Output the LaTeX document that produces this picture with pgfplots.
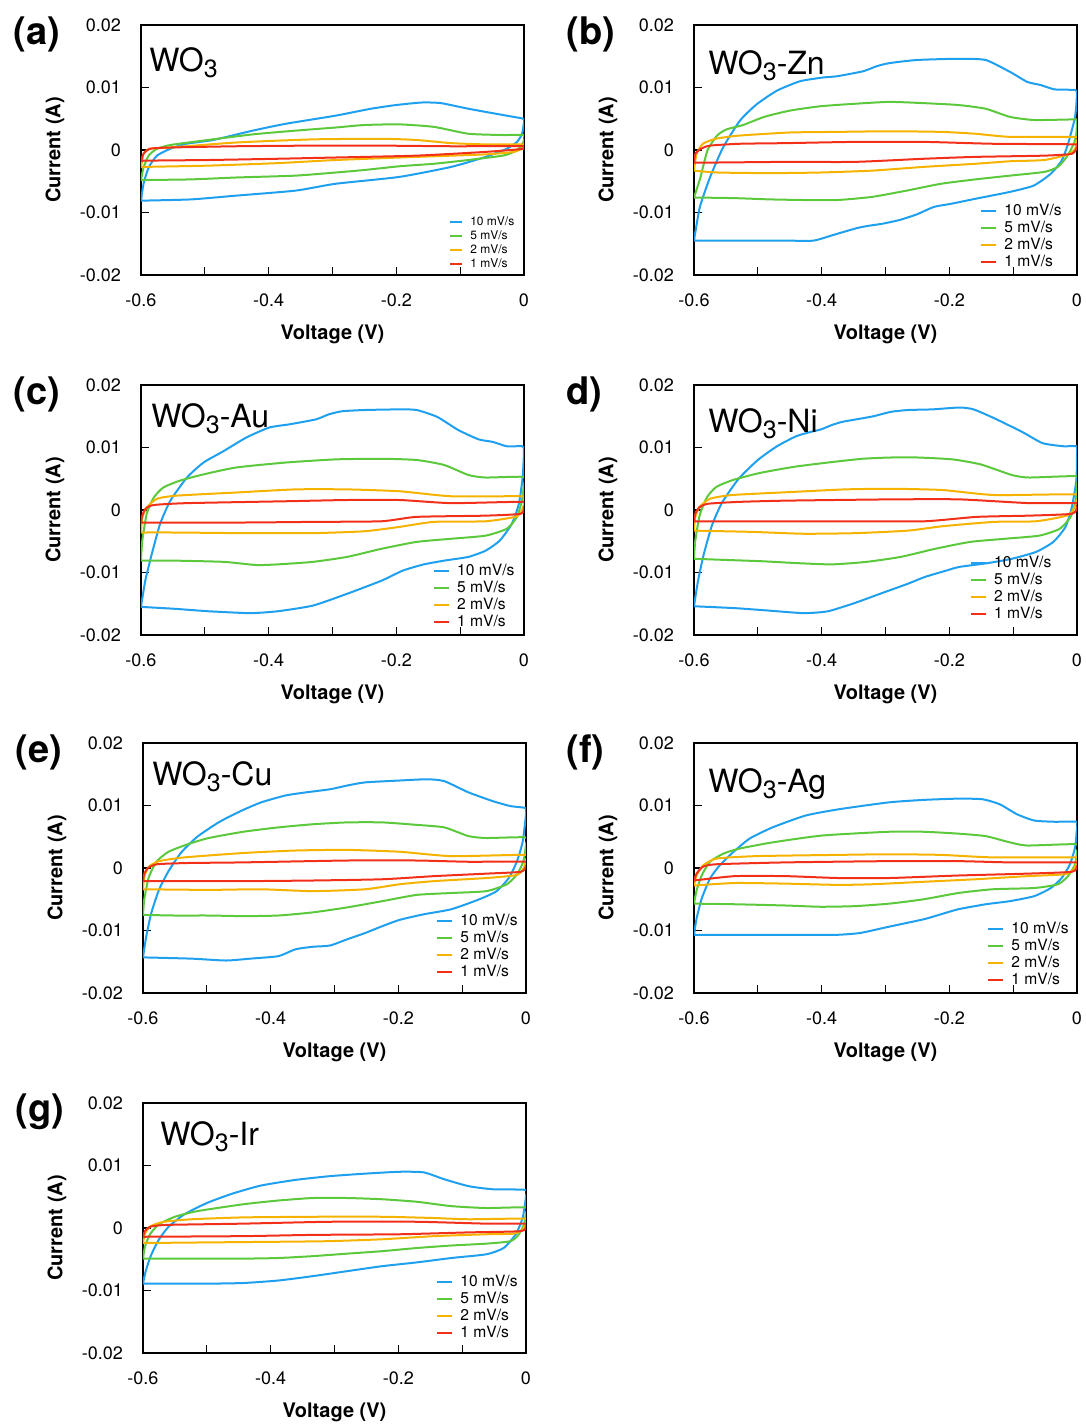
\documentclass[border=0pt]{standalone}
\usepackage{pgfplots}
\pgfplotsset{compat=1.18}
\usepackage{fontspec}
\setmainfont{TeX Gyre Heros}

\definecolor{cvblue}{HTML}{1FA0EE}
\definecolor{cvgreen}{HTML}{5CC83C}
\definecolor{cvorange}{HTML}{F5B300}
\definecolor{cvred}{HTML}{F2301A}

\pgfplotsset{
  cv/.style={
    scale only axis, width=191.5pt, height=125pt,
    anchor=north west,
    xmin=-0.6, xmax=0, ymin=-0.02, ymax=0.02,
    xtick={-0.6,-0.4,-0.2,0}, xticklabels={-0.6,-0.4,-0.2,0},
    minor xtick={-0.5,-0.3,-0.1},
    ytick={-0.02,-0.01,0,0.01,0.02}, yticklabels={-0.02,-0.01,0,0.01,0.02},
    scaled ticks=false,
    tick pos=left, tick align=inside,
    major tick length=4pt, minor tick length=4pt,
    tick style={line width=0.6pt, black},
    axis line style={line width=0.75pt},
    tick label style={font=\fontsize{9}{10}\selectfont},
    xticklabel style={yshift=-6pt},
    yticklabel style={xshift=-6.5pt},
    xlabel={Voltage (V)}, ylabel={Current (A)},
    every axis x label/.style={at={(axis description cs:0.5,0)}, yshift=-29.5pt, anchor=center, font=\fontsize{10}{12}\selectfont\bfseries},
    every axis y label/.style={at={(axis description cs:0,0.5)}, xshift=-43pt, rotate=90, anchor=center, font=\fontsize{10}{12}\selectfont\bfseries},
    every axis plot/.append style={line width=1pt, smooth, tension=0.35},
    legend cell align=left,
    legend image code/.code={\draw[#1] (0pt,0pt) -- (7.5pt,0pt);},
    legend style={draw=none, fill=none, inner sep=0pt, anchor=north west,
      font=\fontsize{7.8}{8}\selectfont, row sep=0.5pt, column sep=3pt,
      nodes={inner sep=0.5pt, text height=5.8pt, text depth=1.2pt}},
  },
  cvsmall/.style={
    legend image code/.code={\draw[#1] (0pt,0pt) -- (6pt,0pt);},
    legend style={font=\fontsize{6}{7}\selectfont, row sep=0.5pt, column sep=3pt,
      nodes={inner sep=0.5pt, text height=4.6pt, text depth=0.9pt}},
  },
}
\newcommand{\panellabel}[2]{\node[anchor=west, inner sep=0pt, font=\fontsize{19}{20}\selectfont\bfseries] at ([xshift=-64pt, yshift=-4.5pt]#1.north west) {#2};}
\newcommand{\sample}[4]{\node[anchor=base west, font=\fontsize{16}{18}\selectfont, inner sep=0pt] at ([xshift=#2, yshift=#3]#1.north west) {WO\raisebox{-3pt}{\fontsize{12.5}{13}\selectfont 3}#4};}

\begin{document}
\begin{tikzpicture}
\path[use as bounding box] (-70.5pt,12.5pt) rectangle (472.5pt,-700pt);

% (a) WO3
\begin{axis}[cv, cvsmall, name=pa, at={(0pt,0pt)}, legend style={at={(0.804,0.24)}}]
\addplot[cvblue] coordinates {(-0.600,-0.0081) (-0.596,-0.0054) (-0.588,-0.0028) (-0.575,-0.0009) (-0.554,0.0002) (-0.529,0.0010) (-0.487,0.0016) (-0.425,0.0031) (-0.373,0.0042) (-0.295,0.0055) (-0.240,0.0066) (-0.200,0.0072) (-0.160,0.0076) (-0.130,0.0075) (-0.087,0.0066) (-0.033,0.0056) (-0.001,0.0050) (0,0.0045) (-0.003,0.0026) (-0.011,0.0013) (-0.027,0.0002) (-0.060,-0.0011) (-0.114,-0.0027) (-0.195,-0.0043) (-0.295,-0.0054) (-0.358,-0.0065) (-0.451,-0.0073) (-0.521,-0.0079) (-0.597,-0.0081) (-0.600,-0.0081)};
\addlegendentry{10 mV/s}
\addplot[cvgreen] coordinates {(-0.600,-0.0048) (-0.596,-0.0028) (-0.588,-0.0009) (-0.575,0.0002) (-0.554,0.0008) (-0.503,0.0015) (-0.425,0.0025) (-0.358,0.0031) (-0.295,0.0036) (-0.250,0.0040) (-0.195,0.0041) (-0.141,0.0037) (-0.087,0.0026) (-0.033,0.0024) (-0.001,0.0024) (0,0.0016) (-0.005,0.0005) (-0.016,-0.0003) (-0.033,-0.0009) (-0.087,-0.0016) (-0.141,-0.0022) (-0.195,-0.0026) (-0.250,-0.0032) (-0.295,-0.0036) (-0.358,-0.0041) (-0.451,-0.0044) (-0.521,-0.0047) (-0.592,-0.0048) (-0.600,-0.0048)};
\addlegendentry{5 mV/s}
\addplot[cvorange] coordinates {(-0.600,-0.0028) (-0.596,-0.0006) (-0.586,0.0002) (-0.554,0.0004) (-0.451,0.0012) (-0.331,0.0017) (-0.223,0.0018) (-0.168,0.0016) (-0.114,0.0011) (-0.060,0.0009) (-0.001,0.0009) (0,0.0004) (-0.016,-0.0003) (-0.060,-0.0007) (-0.168,-0.0011) (-0.295,-0.0016) (-0.386,-0.0021) (-0.494,-0.0025) (-0.592,-0.0027) (-0.600,-0.0028)};
\addlegendentry{2 mV/s}
\addplot[cvred] coordinates {(-0.600,-0.0018) (-0.596,-0.0006) (-0.586,0.0002) (-0.554,0.0004) (-0.451,0.0006) (-0.331,0.0007) (-0.223,0.0007) (-0.114,0.0006) (-0.001,0.0006) (0,0.0002) (-0.060,-0.0003) (-0.168,-0.0009) (-0.295,-0.0012) (-0.386,-0.0014) (-0.494,-0.0016) (-0.592,-0.0017) (-0.600,-0.0018)};
\addlegendentry{1 mV/s}
\end{axis}
\panellabel{pa}{(a)}
\sample{pa}{4pt}{-23pt}{}

% (b) WO3-Zn
\begin{axis}[cv, name=pb, at={(276.5pt,0pt)}, legend style={at={(0.747,0.29)}}]
\addplot[cvblue] coordinates {(-0.600,-0.0145) (-0.591,-0.0092) (-0.575,-0.0044) (-0.5545,0.0004) (-0.528,0.0047) (-0.502,0.0073) (-0.470,0.0095) (-0.434,0.0110) (-0.398,0.0116) (-0.376,0.0118) (-0.335,0.0126) (-0.314,0.0134) (-0.294,0.0139) (-0.251,0.0144) (-0.186,0.0146) (-0.143,0.0144) (-0.105,0.0125) (-0.078,0.0109) (-0.057,0.0104) (-0.035,0.0097) (-0.003,0.0096) (0,0.0090) (-0.003,0.0053) (-0.014,0.0010) (-0.024,-0.0017) (-0.041,-0.0038) (-0.068,-0.0057) (-0.105,-0.0067) (-0.159,-0.0078) (-0.197,-0.0086) (-0.224,-0.0091) (-0.251,-0.0103) (-0.278,-0.0112) (-0.305,-0.0118) (-0.325,-0.0121) (-0.345,-0.0125) (-0.382,-0.0136) (-0.413,-0.0145) (-0.456,-0.0145) (-0.536,-0.0145) (-0.600,-0.0145)};
\addlegendentry{10 mV/s}
\addplot[cvgreen] coordinates {(-0.600,-0.0076) (-0.590,-0.0044) (-0.579,-0.0001) (-0.564,0.0023) (-0.549,0.0033) (-0.523,0.0040) (-0.490,0.0053) (-0.450,0.0063) (-0.402,0.0070) (-0.348,0.0074) (-0.294,0.0077) (-0.240,0.0075) (-0.186,0.0072) (-0.143,0.0066) (-0.105,0.0053) (-0.067,0.0048) (-0.003,0.0049) (0,0.0048) (-0.001,0.0026) (-0.005,0.0010) (-0.016,-0.0011) (-0.030,-0.0027) (-0.051,-0.0035) (-0.105,-0.0041) (-0.159,-0.0047) (-0.213,-0.0054) (-0.267,-0.0065) (-0.321,-0.0075) (-0.375,-0.0080) (-0.429,-0.0080) (-0.482,-0.0079) (-0.536,-0.0077) (-0.600,-0.0076)};
\addlegendentry{5 mV/s}
\addplot[cvorange] coordinates {(-0.600,-0.0033) (-0.596,-0.0006) (-0.586,0.0010) (-0.566,0.0018) (-0.530,0.0023) (-0.450,0.0028) (-0.375,0.0029) (-0.294,0.0030) (-0.213,0.0029) (-0.159,0.0026) (-0.105,0.0021) (-0.003,0.0021) (0,0.0016) (-0.003,0.0002) (-0.014,-0.0007) (-0.051,-0.0016) (-0.105,-0.0018) (-0.159,-0.0022) (-0.240,-0.0027) (-0.321,-0.0033) (-0.402,-0.0036) (-0.482,-0.0037) (-0.563,-0.0036) (-0.600,-0.0033)};
\addlegendentry{2 mV/s}
\addplot[cvred] coordinates {(-0.600,-0.0020) (-0.598,-0.0006) (-0.589,0.0002) (-0.575,0.0007) (-0.528,0.0010) (-0.456,0.0011) (-0.348,0.0013) (-0.240,0.0013) (-0.132,0.0010) (-0.003,0.0009) (0,0.0005) (-0.008,-0.0006) (-0.051,-0.0009) (-0.159,-0.0011) (-0.240,-0.0014) (-0.348,-0.0019) (-0.456,-0.0019) (-0.563,-0.0020) (-0.600,-0.0020)};
\addlegendentry{1 mV/s}
\end{axis}
\panellabel{pb}{(b)}
\sample{pb}{7pt}{-24.5pt}{-Zn}

% (c) WO3-Au
\begin{axis}[cv, name=pc, at={(0pt,-180pt)}, legend style={at={(0.762,0.29)}}]
\addplot[cvblue] coordinates {(-0.600,-0.0155) (-0.5933,-0.0113) (-0.583,-0.0070) (-0.570,-0.0022) (-0.554,0.0015) (-0.528,0.0052) (-0.502,0.0076) (-0.471,0.0094) (-0.435,0.0116) (-0.399,0.0132) (-0.368,0.0137) (-0.326,0.0145) (-0.306,0.0153) (-0.285,0.0158) (-0.250,0.0160) (-0.195,0.0161) (-0.168,0.0160) (-0.136,0.0149) (-0.103,0.0128) (-0.071,0.0113) (-0.049,0.0109) (-0.027,0.0102) (-0.003,0.0102) (0,0.0096) (-0.002,0.0053) (-0.008,0.0010) (-0.019,-0.0022) (-0.038,-0.0049) (-0.060,-0.0065) (-0.087,-0.0075) (-0.125,-0.0081) (-0.157,-0.0087) (-0.190,-0.0097) (-0.223,-0.0113) (-0.277,-0.0134) (-0.331,-0.0153) (-0.386,-0.0162) (-0.429,-0.0165) (-0.494,-0.0162) (-0.548,-0.0158) (-0.600,-0.0155)};
\addlegendentry{10 mV/s}
\addplot[cvgreen] coordinates {(-0.600,-0.0081) (-0.598,-0.0049) (-0.591,-0.0006) (-0.580,0.0020) (-0.565,0.0036) (-0.539,0.0047) (-0.502,0.0057) (-0.451,0.0068) (-0.373,0.0076) (-0.295,0.0081) (-0.223,0.0082) (-0.168,0.0080) (-0.125,0.0072) (-0.087,0.0056) (-0.060,0.0052) (-0.001,0.0053) (0,0.0042) (-0.003,0.0016) (-0.011,-0.0011) (-0.027,-0.0030) (-0.060,-0.0041) (-0.114,-0.0046) (-0.168,-0.0051) (-0.223,-0.0062) (-0.277,-0.0075) (-0.331,-0.0083) (-0.386,-0.0087) (-0.420,-0.0088) (-0.470,-0.0083) (-0.548,-0.0081) (-0.600,-0.0081)};
\addlegendentry{5 mV/s}
\addplot[cvorange] coordinates {(-0.600,-0.0036) (-0.598,-0.0012) (-0.591,0.0004) (-0.575,0.0018) (-0.544,0.0023) (-0.451,0.0028) (-0.358,0.0033) (-0.277,0.0033) (-0.195,0.0030) (-0.114,0.0022) (-0.005,0.0022) (0,0.0018) (-0.001,0.0005) (-0.011,-0.0010) (-0.060,-0.0018) (-0.141,-0.0019) (-0.195,-0.0027) (-0.250,-0.0034) (-0.331,-0.0037) (-0.440,-0.0037) (-0.548,-0.0036) (-0.600,-0.0036)};
\addlegendentry{2 mV/s}
\addplot[cvred] coordinates {(-0.600,-0.0020) (-0.598,-0.0009) (-0.593,0.0002) (-0.580,0.0008) (-0.528,0.0011) (-0.373,0.0014) (-0.277,0.0016) (-0.195,0.0016) (-0.114,0.0011) (-0.001,0.0013) (0,0.0005) (-0.005,-0.0006) (-0.060,-0.0009) (-0.168,-0.0011) (-0.223,-0.0018) (-0.331,-0.0019) (-0.440,-0.0020) (-0.600,-0.0020)};
\addlegendentry{1 mV/s}
\end{axis}
\panellabel{pc}{(c)}
\sample{pc}{5pt}{-21pt}{-Au}

% (d) WO3-Ni
\begin{axis}[cv, name=pd, at={(276.5pt,-180pt)}, legend style={at={(0.72,0.322)}}]
\addplot[cvblue] coordinates {(-0.600,-0.0154) (-0.594,-0.0115) (-0.585,-0.0072) (-0.572,-0.0025) (-0.556,0.0012) (-0.530,0.0050) (-0.500,0.0080) (-0.470,0.0102) (-0.440,0.0118) (-0.417,0.0125) (-0.401,0.0129) (-0.384,0.0136) (-0.368,0.0141) (-0.346,0.0145) (-0.319,0.0150) (-0.292,0.0157) (-0.265,0.0160) (-0.227,0.0161) (-0.184,0.0164) (-0.162,0.0161) (-0.130,0.0147) (-0.086,0.0125) (-0.054,0.0107) (-0.021,0.0102) (-0.001,0.0102) (0,0.0090) (-0.001,0.0048) (-0.008,0.0005) (-0.018,-0.0027) (-0.037,-0.0051) (-0.064,-0.0067) (-0.102,-0.0078) (-0.140,-0.0085) (-0.184,-0.0091) (-0.205,-0.0097) (-0.238,-0.0107) (-0.265,-0.0118) (-0.303,-0.0132) (-0.346,-0.0148) (-0.390,-0.0162) (-0.428,-0.0165) (-0.482,-0.0161) (-0.536,-0.0157) (-0.600,-0.0154)};
\addlegendentry{10 mV/s}
\addplot[cvgreen] coordinates {(-0.600,-0.0078) (-0.598,-0.0049) (-0.591,-0.0008) (-0.580,0.0020) (-0.565,0.0037) (-0.539,0.0048) (-0.498,0.0059) (-0.444,0.0069) (-0.390,0.0076) (-0.336,0.0082) (-0.292,0.0084) (-0.249,0.0084) (-0.195,0.0081) (-0.151,0.0073) (-0.102,0.0056) (-0.075,0.0052) (-0.001,0.0054) (0,0.0042) (-0.002,0.0016) (-0.010,-0.0011) (-0.027,-0.0030) (-0.059,-0.0041) (-0.113,-0.0046) (-0.167,-0.0051) (-0.222,-0.0062) (-0.276,-0.0075) (-0.330,-0.0083) (-0.384,-0.0087) (-0.438,-0.0085) (-0.493,-0.0082) (-0.547,-0.0080) (-0.600,-0.0078)};
\addlegendentry{5 mV/s}
\addplot[cvorange] coordinates {(-0.600,-0.0033) (-0.598,-0.0011) (-0.591,0.0005) (-0.575,0.0018) (-0.540,0.0024) (-0.444,0.0029) (-0.363,0.0033) (-0.292,0.0034) (-0.211,0.0032) (-0.130,0.0024) (-0.001,0.0025) (0,0.0016) (-0.005,0.0002) (-0.016,-0.0009) (-0.064,-0.0018) (-0.130,-0.0019) (-0.211,-0.0026) (-0.265,-0.0033) (-0.346,-0.0037) (-0.428,-0.0038) (-0.509,-0.0035) (-0.600,-0.0033)};
\addlegendentry{2 mV/s}
\addplot[cvred] coordinates {(-0.600,-0.0018) (-0.598,-0.0006) (-0.592,0.0004) (-0.578,0.0010) (-0.530,0.0013) (-0.455,0.0015) (-0.292,0.0017) (-0.184,0.0017) (-0.075,0.0011) (-0.001,0.0011) (0,0.0005) (-0.008,-0.0006) (-0.075,-0.0009) (-0.157,-0.0011) (-0.238,-0.0018) (-0.346,-0.0018) (-0.455,-0.0018) (-0.600,-0.0018)};
\addlegendentry{1 mV/s}
\end{axis}
\panellabel{pd}{d)}
\sample{pd}{7pt}{-23.5pt}{-Ni}

% (e) WO3-Cu
\begin{axis}[cv, name=pe, at={(1pt,-359pt)}, legend style={at={(0.765,0.322)}}]
\addplot[cvblue] coordinates {(-0.600,-0.0143) (-0.595,-0.0110) (-0.587,-0.0072) (-0.575,-0.0035) (-0.560,-0.0005) (-0.540,0.0025) (-0.515,0.0050) (-0.480,0.0074) (-0.445,0.0092) (-0.415,0.0105) (-0.377,0.0116) (-0.345,0.0121) (-0.307,0.0126) (-0.280,0.0132) (-0.252,0.0137) (-0.198,0.0140) (-0.155,0.0142) (-0.128,0.0139) (-0.090,0.0121) (-0.052,0.0107) (-0.024,0.0099) (-0.001,0.0096) (0,0.0086) (-0.005,0.0043) (-0.014,0.0011) (-0.027,-0.0016) (-0.046,-0.0037) (-0.073,-0.0050) (-0.117,-0.0066) (-0.160,-0.0074) (-0.198,-0.0083) (-0.225,-0.0093) (-0.252,-0.0104) (-0.280,-0.0114) (-0.307,-0.0124) (-0.334,-0.0126) (-0.361,-0.0130) (-0.388,-0.0141) (-0.432,-0.0145) (-0.470,-0.0148) (-0.524,-0.0145) (-0.600,-0.0143)};
\addlegendentry{10 mV/s}
\addplot[cvgreen] coordinates {(-0.600,-0.0075) (-0.598,-0.0050) (-0.591,-0.0015) (-0.579,0.0010) (-0.560,0.0026) (-0.530,0.0038) (-0.497,0.0048) (-0.443,0.0058) (-0.388,0.0065) (-0.334,0.0070) (-0.280,0.0073) (-0.225,0.0073) (-0.171,0.0069) (-0.128,0.0065) (-0.090,0.0051) (-0.062,0.0048) (-0.001,0.0049) (0,0.0038) (-0.004,0.0011) (-0.014,-0.0010) (-0.030,-0.0026) (-0.062,-0.0037) (-0.117,-0.0040) (-0.171,-0.0043) (-0.225,-0.0053) (-0.280,-0.0063) (-0.334,-0.0071) (-0.388,-0.0076) (-0.443,-0.0077) (-0.497,-0.0076) (-0.551,-0.0076) (-0.600,-0.0075)};
\addlegendentry{5 mV/s}
\addplot[cvorange] coordinates {(-0.600,-0.0034) (-0.598,-0.0014) (-0.591,0.0002) (-0.575,0.0011) (-0.535,0.0017) (-0.443,0.0024) (-0.361,0.0028) (-0.280,0.0029) (-0.198,0.0026) (-0.117,0.0019) (-0.001,0.0021) (0,0.0014) (-0.003,0.0001) (-0.014,-0.0011) (-0.062,-0.0016) (-0.144,-0.0021) (-0.198,-0.0026) (-0.252,-0.0034) (-0.334,-0.0037) (-0.415,-0.0034) (-0.497,-0.0035) (-0.600,-0.0034)};
\addlegendentry{2 mV/s}
\addplot[cvred] coordinates {(-0.600,-0.0021) (-0.598,-0.0009) (-0.592,0) (-0.578,0.0006) (-0.530,0.0008) (-0.443,0.0009) (-0.280,0.0012) (-0.171,0.0012) (-0.090,0.0010) (-0.001,0.0010) (0,0.0003) (-0.008,-0.0006) (-0.062,-0.0009) (-0.144,-0.0013) (-0.225,-0.0018) (-0.334,-0.0020) (-0.443,-0.0021) (-0.600,-0.0021)};
\addlegendentry{1 mV/s}
\end{axis}
\panellabel{pe}{(e)}
\sample{pe}{4.5pt}{-21pt}{-Cu}

% (f) WO3-Ag
\begin{axis}[cv, name=pf, at={(276.5pt,-359pt)}, legend style={at={(0.765,0.29)}}]
\addplot[cvblue] coordinates {(-0.600,-0.0107) (-0.596,-0.0081) (-0.588,-0.0049) (-0.575,-0.0017) (-0.560,0.0004) (-0.539,0.0025) (-0.513,0.0047) (-0.477,0.0065) (-0.425,0.0084) (-0.373,0.0094) (-0.295,0.0105) (-0.240,0.0109) (-0.186,0.0111) (-0.148,0.0110) (-0.121,0.0102) (-0.094,0.0086) (-0.067,0.0076) (-0.035,0.0074) (-0.001,0.0074) (0,0.0065) (-0.003,0.0033) (-0.011,0.0006) (-0.024,-0.0016) (-0.041,-0.0032) (-0.067,-0.0045) (-0.105,-0.0053) (-0.143,-0.0058) (-0.186,-0.0066) (-0.213,-0.0074) (-0.240,-0.0082) (-0.295,-0.0094) (-0.340,-0.0104) (-0.378,-0.0107) (-0.429,-0.0107) (-0.509,-0.0107) (-0.600,-0.0107)};
\addlegendentry{10 mV/s}
\addplot[cvgreen] coordinates {(-0.600,-0.0057) (-0.596,-0.0036) (-0.588,-0.0012) (-0.575,0.0010) (-0.554,0.0023) (-0.529,0.0031) (-0.477,0.0041) (-0.399,0.0052) (-0.295,0.0058) (-0.240,0.0058) (-0.186,0.0055) (-0.143,0.0051) (-0.105,0.0041) (-0.078,0.0036) (-0.001,0.0038) (0,0.0027) (-0.003,0.0006) (-0.014,-0.0013) (-0.030,-0.0026) (-0.067,-0.0032) (-0.132,-0.0034) (-0.186,-0.0040) (-0.240,-0.0050) (-0.294,-0.0057) (-0.348,-0.0061) (-0.402,-0.0062) (-0.456,-0.0060) (-0.536,-0.0058) (-0.600,-0.0057)};
\addlegendentry{5 mV/s}
\addplot[cvorange] coordinates {(-0.600,-0.0028) (-0.596,-0.0012) (-0.586,0.0004) (-0.565,0.0015) (-0.503,0.0019) (-0.375,0.0021) (-0.294,0.0022) (-0.213,0.0021) (-0.132,0.0017) (-0.001,0.0017) (0,0.0011) (-0.005,-0.0002) (-0.019,-0.0010) (-0.078,-0.0013) (-0.159,-0.0018) (-0.240,-0.0022) (-0.321,-0.0026) (-0.375,-0.0027) (-0.456,-0.0025) (-0.536,-0.0024) (-0.600,-0.0028)};
\addlegendentry{2 mV/s}
\addplot[cvred] coordinates {(-0.600,-0.0020) (-0.596,-0.0009) (-0.586,0.0002) (-0.565,0.0006) (-0.456,0.0009) (-0.295,0.0011) (-0.186,0.0011) (-0.105,0.0009) (-0.001,0.0009) (0,0.0003) (-0.008,-0.0006) (-0.078,-0.0009) (-0.186,-0.0012) (-0.294,-0.0016) (-0.375,-0.0016) (-0.456,-0.0013) (-0.536,-0.0013) (-0.600,-0.0020)};
\addlegendentry{1 mV/s}
\end{axis}
\panellabel{pf}{(f)}
\sample{pf}{7pt}{-24.5pt}{-Ag}

% (g) WO3-Ir
\begin{axis}[cv, name=pg, at={(1pt,-539pt)}, legend style={at={(0.765,0.318)}}]
\addplot[cvblue] coordinates {(-0.600,-0.0089) (-0.596,-0.0070) (-0.588,-0.0045) (-0.576,-0.0020) (-0.560,0.0002) (-0.535,0.0022) (-0.500,0.0040) (-0.460,0.0055) (-0.415,0.0068) (-0.361,0.0077) (-0.307,0.0083) (-0.252,0.0087) (-0.198,0.0090) (-0.160,0.0089) (-0.128,0.0078) (-0.090,0.0067) (-0.052,0.0062) (-0.001,0.0061) (0,0.0051) (-0.005,0.0017) (-0.016,-0.0010) (-0.035,-0.0032) (-0.062,-0.0042) (-0.117,-0.0048) (-0.171,-0.0055) (-0.225,-0.0061) (-0.280,-0.0069) (-0.334,-0.0077) (-0.388,-0.0084) (-0.443,-0.0088) (-0.497,-0.0089) (-0.551,-0.0089) (-0.600,-0.0089)};
\addlegendentry{10 mV/s}
\addplot[cvgreen] coordinates {(-0.600,-0.0049) (-0.597,-0.0030) (-0.589,-0.0010) (-0.575,0.0006) (-0.550,0.0018) (-0.515,0.0027) (-0.443,0.0038) (-0.388,0.0044) (-0.334,0.0048) (-0.280,0.0048) (-0.225,0.0046) (-0.171,0.0042) (-0.117,0.0035) (-0.062,0.0032) (-0.001,0.0033) (0,0.0025) (-0.003,0.0006) (-0.011,-0.0010) (-0.024,-0.0021) (-0.062,-0.0025) (-0.117,-0.0028) (-0.171,-0.0032) (-0.225,-0.0037) (-0.280,-0.0041) (-0.334,-0.0045) (-0.388,-0.0048) (-0.443,-0.0049) (-0.497,-0.0049) (-0.600,-0.0049)};
\addlegendentry{5 mV/s}
\addplot[cvorange] coordinates {(-0.600,-0.0024) (-0.597,-0.0009) (-0.588,0.0003) (-0.567,0.0010) (-0.524,0.0014) (-0.443,0.0017) (-0.334,0.0018) (-0.225,0.0018) (-0.144,0.0016) (-0.090,0.0014) (-0.001,0.0015) (0,0.0009) (-0.005,-0.0002) (-0.019,-0.0009) (-0.062,-0.0010) (-0.144,-0.0013) (-0.225,-0.0018) (-0.307,-0.0021) (-0.388,-0.0022) (-0.497,-0.0023) (-0.600,-0.0024)};
\addlegendentry{2 mV/s}
\addplot[cvred] coordinates {(-0.600,-0.0014) (-0.597,-0.0005) (-0.589,0.0002) (-0.562,0.0005) (-0.443,0.0007) (-0.307,0.0010) (-0.171,0.0010) (-0.062,0.0007) (-0.001,0.0007) (0,0.0003) (-0.008,-0.0005) (-0.090,-0.0007) (-0.198,-0.0010) (-0.334,-0.0011) (-0.443,-0.0013) (-0.600,-0.0014)};
\addlegendentry{1 mV/s}
\end{axis}
\panellabel{pg}{(g)}
\sample{pg}{8.5pt}{-21pt}{-Ir}
\end{tikzpicture}
\end{document}
